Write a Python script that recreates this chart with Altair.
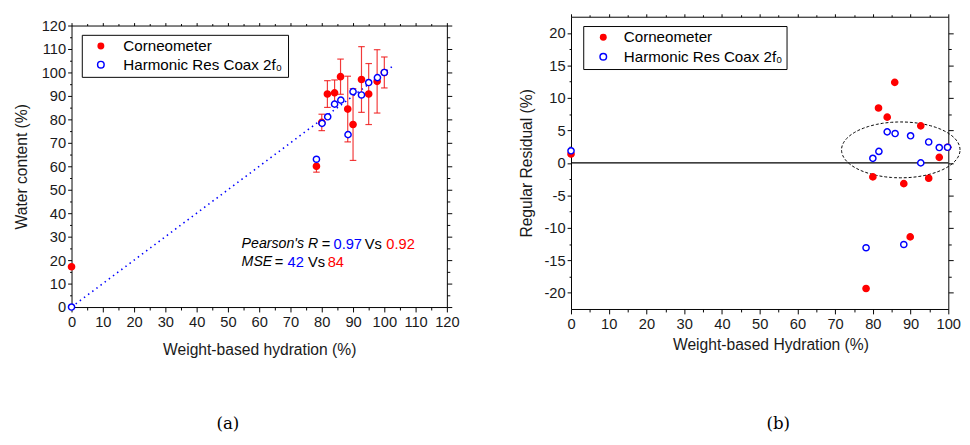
import altair as alt
import pandas as pd
import numpy as np

series_names = ["Corneometer", "Harmonic Res Coax 2f\u2080"]

# ---- (a) water content vs weight-based hydration ----
corneo_x = [0, 78.3, 80.0, 81.8, 84.1, 86.0, 88.3, 90.0, 92.7, 95.0, 97.7, 100.0]
corneo_y = [17.2, 60.0, 78.7, 90.8, 91.3, 98.2, 84.4, 77.8, 97.0, 90.8, 96.2, 100.0]
corneo_err = [0, 2.5, 3.5, 5.7, 5.5, 7.5, 14.0, 15.3, 14.0, 13.0, 13.5, 6.6]
harm_x = [0, 78.3, 80.1, 81.9, 84.1, 86.1, 88.4, 90.0, 92.7, 95.0, 97.8, 100.0]
harm_y = [0, 63.0, 78.3, 81.1, 86.5, 88.2, 73.5, 91.8, 90.4, 95.7, 97.8, 100.0]
fit_x = [0, 103]
fit_y = [0, 103]
pearson_r = ["0.97", "0.92"]
mse = ["42", "84"]

# ---- (b) residuals ----
res_corneo_x = [0, 78.2, 80.0, 81.5, 83.8, 85.8, 88.2, 89.9, 92.7, 94.8, 97.6, 99.8]
res_corneo_y = [1.36, -19.35, -2.16, 8.45, 7.04, 12.4, -3.2, -11.4, 5.7, -2.36, 0.85, 2.4]
res_harm_x = [0, 78.2, 80.0, 81.6, 83.8, 85.9, 88.2, 90.0, 92.7, 94.8, 97.6, 99.8]
res_harm_y = [1.86, -13.07, 0.7, 1.76, 4.78, 4.52, -12.57, 4.17, 0.0, 3.22, 2.36, 2.4]
ellipse_center = (87.4, 2.0)
ellipse_radii = (15.7, 4.3)

# tick lists
left_ticks = list(range(0, 121, 5))
right_xticks = list(range(0, 101, 5))
right_yticks = [-20 + 2.5 * i for i in range(17)]

RED = "#ff0000"
BLUE = "#0000ff"
FONT = "Liberation Sans"

W1 = 384
W2 = 386
H = 299          # both panels share the same group height
TOP1 = 9         # panel (a) plot area starts lower than panel (b)
BOT1 = 2         # and ends slightly higher


def axis(values, major, orient, title=None, labels=True, big=5, small=3, **kw):
    test = f"abs(datum.value % {major}) < 1e-6"
    args = dict(
        orient=orient,
        values=values,
        labels=labels,
        tickSize={"condition": {"test": test, "value": big}, "value": small},
        tickColor="black",
        tickWidth=1,
        domainColor="black",
        domainWidth=1,
        grid=False,
        labelOverlap=False,
        labelFlush=False,
        title=title,
    )
    if labels:
        args["labelExpr"] = f"{test} ? toString(datum.value) : ''"
    args.update(kw)
    return alt.Axis(**args)


def points_layer(df, xs, ys, xaxis, yaxis):
    return alt.Chart(df).mark_point(filled=False, size=40, strokeWidth=1.5, opacity=1).encode(
        x=alt.X("x:Q", scale=xs, axis=xaxis),
        y=alt.Y("y:Q", scale=ys, axis=yaxis),
        fill=alt.Fill("series:N", scale=alt.Scale(domain=series_names, range=[RED, "white"]), legend=None),
        stroke=alt.Stroke("series:N", scale=alt.Scale(domain=series_names, range=[RED, BLUE]), legend=None),
        order=alt.Order("k:Q"),
    )


def frame_layer(df, xs, ys, xaxis, yaxis):
    return alt.Chart(df).mark_point(opacity=0).encode(
        x=alt.X("x:Q", scale=xs, axis=xaxis),
        y=alt.Y("y:Q", scale=ys, axis=yaxis),
    )


one = pd.DataFrame({"a": [0]})


def legend_box(x0, x1, y0, y1, sx, sy1, sy2, tx):
    box = alt.Chart(one).mark_rect(fill="white", stroke="black", strokeWidth=1).encode(
        x=alt.value(x0), x2=alt.value(x1), y=alt.value(y0), y2=alt.value(y1)
    )
    s1 = alt.Chart(one).mark_point(shape="circle", filled=True, color=RED, size=50, opacity=1).encode(
        x=alt.value(sx), y=alt.value(sy1)
    )
    s2 = alt.Chart(one).mark_point(shape="circle", filled=False, fill="white", stroke=BLUE,
                                   strokeWidth=1.5, size=45, opacity=1).encode(
        x=alt.value(sx), y=alt.value(sy2)
    )
    t1 = alt.Chart(one).mark_text(text=series_names[0], align="left", baseline="middle",
                                  font=FONT, fontSize=15.5, color="black").encode(
        x=alt.value(tx), y=alt.value(sy1)
    )
    t2 = alt.Chart(one).mark_text(text=series_names[1], align="left", baseline="middle",
                                  font=FONT, fontSize=15.5, color="black").encode(
        x=alt.value(tx), y=alt.value(sy2)
    )
    return [box, s1, s2, t1, t2]


# ================= panel (a) =================
xs1 = alt.Scale(domain=[0, 120], nice=False, zero=False)
ys1 = alt.Scale(domain=[0, 120], nice=False, zero=False, range=[H - BOT1, TOP1])

pts1 = pd.DataFrame({
    "x": corneo_x + harm_x,
    "y": corneo_y + harm_y,
    "series": [series_names[0]] * len(corneo_x) + [series_names[1]] * len(harm_x),
})
pts1["k"] = range(len(pts1))

err1 = pd.DataFrame({"x": corneo_x, "y": corneo_y, "e": corneo_err})
err1 = err1[err1["e"] > 0].copy()
err1["lo"] = err1["y"] - err1["e"]
err1["hi"] = err1["y"] + err1["e"]

fit1 = pd.DataFrame({"x": fit_x, "y": fit_y})

fit_line = alt.Chart(fit1).mark_line(color=BLUE, strokeWidth=1.6, strokeDash=[1.5, 3.8]).encode(
    x=alt.X("x:Q", scale=xs1, axis=None), y=alt.Y("y:Q", scale=ys1, axis=None)
)
ERR_COLOR = "#f01818"
err_rule = alt.Chart(err1).mark_rule(color=ERR_COLOR, strokeWidth=1.2, opacity=0.85).encode(
    x=alt.X("x:Q", scale=xs1, axis=None),
    y=alt.Y("lo:Q", scale=ys1, axis=None),
    y2="hi:Q",
)
cap_lo = alt.Chart(err1).mark_point(shape="stroke", size=45, color=ERR_COLOR, strokeWidth=1.2, opacity=0.85).encode(
    x=alt.X("x:Q", scale=xs1, axis=None), y=alt.Y("lo:Q", scale=ys1, axis=None)
)
cap_hi = alt.Chart(err1).mark_point(shape="stroke", size=45, color=ERR_COLOR, strokeWidth=1.2, opacity=0.85).encode(
    x=alt.X("x:Q", scale=xs1, axis=None), y=alt.Y("hi:Q", scale=ys1, axis=None)
)

main1 = points_layer(
    pts1, xs1, ys1,
    axis(left_ticks, 10, "bottom", "Weight-based hydration (%)", labelPadding=3, titlePadding=13, offset=-BOT1),
    axis(left_ticks, 10, "left", "Water content (%)", big=4, small=2, labelPadding=2, titlePadding=12),
)
frame1 = frame_layer(
    pts1, xs1, ys1,
    axis(left_ticks, 10, "top", None, labels=False, big=3, small=2, offset=-TOP1),
    axis(left_ticks, 10, "right", None, labels=False, big=5, small=3),
)

legend1 = legend_box(11, 222, TOP1 + 10, TOP1 + 53, 30, TOP1 + 21, TOP1 + 40, 53)


def seg(text, px, py, color="black", italic=False):
    m = dict(text=text, align="left", baseline="middle", fontSize=15, font=FONT, color=color)
    if italic:
        m["fontStyle"] = "italic"
        m["fontSize"] = 14.5
    return alt.Chart(one).mark_text(**m).encode(x=alt.value(px), y=alt.value(py))


L1 = 233
L2 = 251
annot = [
    seg("Pearson's R", 174, L1, italic=True),
    seg("=", 256, L1),
    seg(pearson_r[0], 268, L1, color=BLUE),
    seg("Vs", 300, L1),
    seg(pearson_r[1], 322, L1, color=RED),
    seg("MSE", 174, L2, italic=True),
    seg("=", 208, L2),
    seg(mse[0], 221, L2, color=BLUE),
    seg("Vs", 242, L2),
    seg(mse[1], 262, L2, color=RED),
]

label_a = alt.Chart(one).mark_text(text="(a)", font="DejaVu Serif", fontSize=17, color="black").encode(
    x=alt.value(160), y=alt.value(417)
)

left = alt.layer(fit_line, err_rule, cap_lo, cap_hi, main1, frame1, *legend1, *annot, label_a).resolve_axis(
    x="independent", y="independent"
).properties(width=W1, height=H)

# ================= panel (b) =================
xs2 = alt.Scale(domain=[0, 100], nice=False, zero=False)
ys2 = alt.Scale(domain=[-22.5, 22.5], nice=False, zero=False)

pts2 = pd.DataFrame({
    "x": res_corneo_x + res_harm_x,
    "y": res_corneo_y + res_harm_y,
    "series": [series_names[0]] * len(res_corneo_x) + [series_names[1]] * len(res_harm_x),
})
pts2["k"] = range(len(pts2))

zero_df = pd.DataFrame({"y": [0]})
zero_rule = alt.Chart(zero_df).mark_rule(color="black", strokeWidth=1.5).encode(
    y=alt.Y("y:Q", scale=ys2, axis=None)
)

t = np.linspace(0, 2 * np.pi, 121)
ell = pd.DataFrame({
    "x": ellipse_center[0] + ellipse_radii[0] * np.cos(t),
    "y": ellipse_center[1] + ellipse_radii[1] * np.sin(t),
    "o": np.arange(len(t)),
})
ellipse = alt.Chart(ell).mark_line(color="black", strokeWidth=1, strokeDash=[3, 2]).encode(
    x=alt.X("x:Q", scale=xs2, axis=None),
    y=alt.Y("y:Q", scale=ys2, axis=None),
    order="o:Q",
)

main2 = points_layer(
    pts2, xs2, ys2,
    axis(right_xticks, 10, "bottom", "Weight-based Hydration (%)", labelPadding=3, titlePadding=5, titleX=204),
    axis(right_yticks, 5, "left", "Regular Residual (%)", big=4, small=2, labelPadding=2, titlePadding=10),
)
frame2 = frame_layer(
    pts2, xs2, ys2,
    axis(right_xticks, 10, "top", None, labels=False, big=3, small=2),
    axis(right_yticks, 5, "right", None, labels=False, big=5, small=3),
)
legend2 = legend_box(13, 221, 10, 54, 33, 21, 41, 54)

label_b = alt.Chart(one).mark_text(text="(b)", font="DejaVu Serif", fontSize=17, color="black").encode(
    x=alt.value(212), y=alt.value(417)
)

right = alt.layer(zero_rule, ellipse, main2, frame2, *legend2, label_b).resolve_axis(
    x="independent", y="independent"
).properties(width=W2, height=H)

chart = alt.hconcat(left, right, spacing=60).properties(
    padding={"left": 5, "top": 0, "right": 0, "bottom": 0}
).configure_axis(
    labelFont=FONT, titleFont=FONT, labelFontSize=15, titleFontSize=16,
    titleFontWeight="normal", labelColor="#1a1a1a", titleColor="#1a1a1a",
).configure_view(stroke=None)

chart.save("out.html", embed_options={"renderer": "svg", "actions": False})
